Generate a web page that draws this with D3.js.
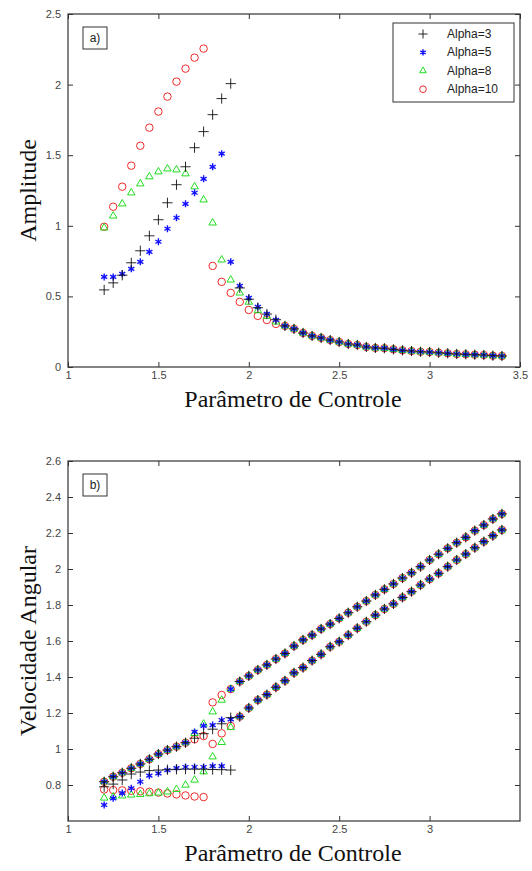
<!DOCTYPE html>
<html>
<head>
<meta charset="utf-8">
<script src="https://cdn.jsdelivr.net/npm/d3@7"></script>
<style>
  body { margin: 0; background: #fff; }
  .tick text { font-family: "Liberation Sans", Arial, sans-serif; font-size: 11px; fill: #444; }
  .tick line { stroke: #333; }
</style>
</head>
<body>
<div id="chart"></div>
<script>
// valores de x (Parâmetro de Controle)
var xs = [1.2,1.25,1.3,1.35,1.4,1.45,1.5,1.55,1.6,1.65,1.7,1.75,1.8,1.85,1.9,1.95,
          2,2.05,2.1,2.15,2.2,2.25,2.3,2.35,2.4,2.45,2.5,2.55,2.6,2.65,2.7,2.75,2.8,
          2.85,2.9,2.95,3,3.05,3.1,3.15,3.2,3.25,3.3,3.35,3.4];

var seriesNames = ["Alpha=3", "Alpha=5", "Alpha=8", "Alpha=10"];

// a) Amplitude  -- cauda comum x = 2.2 .. 3.4
var ampTail = [0.291,0.27,0.241,0.22,0.206,0.191,0.177,0.163,0.156,0.142,0.135,0.133,0.125,
               0.118,0.113,0.108,0.106,0.101,0.097,0.092,0.09,0.087,0.085,0.08,0.078];
// x = 1.2 .. 2.15
var amp3  = [0.546,0.596,0.65,0.738,0.823,0.929,1.043,1.163,1.291,1.418,1.553,1.667,1.787,1.901,2.007,0.56,0.48,0.42,0.375,0.335];
var amp5  = [0.638,0.638,0.66,0.695,0.745,0.816,0.887,0.979,1.057,1.156,1.234,1.333,1.418,1.511,0.745,0.574,0.489,0.426,0.376,0.333];
var amp8  = [0.986,1.07,1.156,1.234,1.298,1.348,1.383,1.404,1.397,1.369,1.277,1.184,1.021,0.759,0.617,0.525,0.46,0.40,0.36,0.32];
var amp10 = [0.993,1.135,1.277,1.426,1.567,1.695,1.809,1.915,2.021,2.113,2.191,2.255,0.716,0.603,0.525,0.461,0.404,0.362,0.333,0.305];

// b) Velocidade Angular -- ramos comuns x = 1.95 .. 3.4
var upperTail = [1.375,1.406,1.439,1.467,1.5,1.531,1.572,1.606,1.633,1.667,1.694,1.726,1.757,1.79,1.822,
                 1.856,1.887,1.917,1.95,1.979,2.013,2.05,2.082,2.115,2.146,2.176,2.213,2.244,2.278,2.306];
var lowerTail = [1.18,1.228,1.272,1.302,1.343,1.379,1.423,1.452,1.491,1.526,1.568,1.596,1.633,1.671,1.707,
                 1.744,1.778,1.806,1.842,1.874,1.911,1.944,1.976,2.013,2.05,2.083,2.118,2.152,2.185,2.217];
// faixa comum x = 1.2 .. 1.65
var bandHead = [0.818,0.846,0.868,0.893,0.917,0.943,0.972,0.994,1.013,1.035];
// x = 1.7 .. 1.9 (ramo 1) e x = 1.2 .. 1.9 (ramo 2)
var vel3a  = [1.06,1.085,1.11,1.14,1.174];
var vel3b  = [0.79,0.805,0.828,0.861,0.872,0.88,0.883,0.885,0.887,0.888,0.888,0.888,0.886,0.885,0.883];
var vel5a  = [1.095,1.128,1.133,1.161,1.333];
var vel5b  = [0.689,0.726,0.755,0.782,0.818,0.852,0.865,0.883,0.894,0.9,0.9,0.9,0.905,0.905,1.165];
var vel8a  = [1.087,1.139,1.207,1.272,1.333];
var vel8b  = [0.728,0.735,0.74,0.745,0.748,0.752,0.756,0.762,0.776,0.8,0.828,0.874,0.957,1.037,1.12];
var vel10a = [1.054,1.072,1.259,1.3,1.333];
var vel10b = [0.775,0.772,0.77,0.768,0.765,0.762,0.758,0.753,0.748,0.742,0.736,0.733,1.028,1.087,1.128];

var ampData = [amp3.concat(ampTail), amp5.concat(ampTail), amp8.concat(ampTail), amp10.concat(ampTail)];
var velData = [
  [bandHead.concat(vel3a, lowerTail), vel3b.concat(upperTail)],
  [bandHead.concat(vel5a, upperTail), vel5b.concat(lowerTail)],
  [bandHead.concat(vel8a, upperTail), vel8b.concat(lowerTail)],
  [bandHead.concat(vel10a, upperTail), vel10b.concat(lowerTail)]
];

var styles = [
  {color: "#111",    sym: d3.symbolPlus,      size: 36, sw: 0.9},
  {color: "#1010ff", sym: d3.symbolAsterisk,  size: 34, sw: 1.4},
  {color: "#22dd22", sym: d3.symbolTriangle2, size: 40, sw: 1},
  {color: "#ee2a2a", sym: d3.symbolCircle,    size: 44, sw: 1}
];
// ordem de desenho: Alpha=10 por baixo, Alpha=3 por cima
var drawOrder = [3, 2, 1, 0];

var width = 532, height = 871;
var svg = d3.select("#chart").append("svg")
    .attr("width", width)
    .attr("height", height);

var x = d3.scaleLinear().domain([1, 3.5]).range([68, 520]);

function panel(opt) {
  var y = d3.scaleLinear().domain(opt.yDomain).range([opt.bottom, opt.top]);
  var g = svg.append("g");

  g.append("rect")
    .attr("x", 68).attr("y", opt.top)
    .attr("width", 452).attr("height", opt.bottom - opt.top)
    .attr("fill", "none").attr("stroke", "#333").attr("stroke-width", 1.2);

  g.append("g").attr("transform", "translate(0," + opt.bottom + ")")
    .call(d3.axisBottom(x).tickValues(opt.xTicks).tickSize(-5).tickPadding(4).tickFormat(function(d){ return d; }))
    .call(function(a){ a.select(".domain").remove(); });
  g.append("g").attr("transform", "translate(0," + opt.top + ")")
    .call(d3.axisTop(x).tickValues(opt.xTicks).tickSize(-5).tickFormat(""))
    .call(function(a){ a.select(".domain").remove(); });
  g.append("g").attr("transform", "translate(68,0)")
    .call(d3.axisLeft(y).tickValues(opt.yTicks).tickSize(-5).tickPadding(7).tickFormat(function(d){ return d; }))
    .call(function(a){ a.select(".domain").remove(); });
  g.append("g").attr("transform", "translate(520,0)")
    .call(d3.axisRight(y).tickValues(opt.yTicks).tickSize(-5).tickFormat(""))
    .call(function(a){ a.select(".domain").remove(); });

  // marcadores
  drawOrder.forEach(function(i) {
    var st = styles[i];
    var sym = d3.symbol().type(st.sym).size(st.size);
    opt.data[i].forEach(function(vals) {
      var pts = xs.map(function(xv, k){ return [xv, vals[k]]; })
                  .filter(function(p){ return p[1] != null; });
      g.selectAll(null).data(pts).enter().append("path")
        .attr("d", sym)
        .attr("transform", function(p){ return "translate(" + x(p[0]) + "," + y(p[1]) + ")"; })
        .attr("fill", "none")
        .attr("stroke", st.color)
        .attr("stroke-width", st.sw);
    });
  });

  // rótulo do painel
  g.append("rect").attr("x", 83).attr("y", opt.top + 13).attr("width", 24).attr("height", 22)
    .attr("fill", "#fff").attr("stroke", "#333");
  g.append("text").attr("x", 95).attr("y", opt.top + 28).attr("text-anchor", "middle")
    .style("font-family", "Liberation Sans, Arial, sans-serif").style("font-size", "12px").attr("fill", "#222")
    .text(opt.label);

  // títulos
  g.append("text").attr("x", 293).attr("y", opt.bottom + 40).attr("text-anchor", "middle")
    .style("font-family", "Liberation Serif, Times New Roman, serif").style("font-size", "24px").attr("fill", "#111")
    .text("Parâmetro de Controle");
  g.append("text")
    .attr("transform", "translate(36," + ((opt.top + opt.bottom) / 2) + ") rotate(-90)")
    .attr("text-anchor", "middle")
    .style("font-family", "Liberation Serif, Times New Roman, serif").style("font-size", "24px").attr("fill", "#111")
    .text(opt.yTitle);
  return g;
}

var gA = panel({
  top: 14, bottom: 367, yDomain: [0, 2.5],
  xTicks: [1, 1.5, 2, 2.5, 3, 3.5], yTicks: [0, 0.5, 1, 1.5, 2, 2.5],
  data: ampData.map(function(d){ return [d]; }),
  label: "a)", yTitle: "Amplitude"
});

panel({
  top: 461, bottom: 821, yDomain: [0.6, 2.6],
  xTicks: [1, 1.5, 2, 2.5, 3], yTicks: [0.8, 1, 1.2, 1.4, 1.6, 1.8, 2, 2.2, 2.4, 2.6],
  data: velData,
  label: "b)", yTitle: "Velocidade Angular"
});

// legenda
var leg = gA.append("g");
leg.append("rect").attr("x", 393).attr("y", 23).attr("width", 121).attr("height", 79)
  .attr("fill", "#fff").attr("stroke", "#333");
seriesNames.forEach(function(name, i) {
  var st = styles[i];
  var yy = 34 + i * 18.4;
  leg.append("path")
    .attr("d", d3.symbol().type(st.sym).size(st.size * 0.8))
    .attr("transform", "translate(423," + yy + ")")
    .attr("fill", "none").attr("stroke", st.color).attr("stroke-width", st.sw);
  leg.append("text").attr("x", 447).attr("y", yy + 4)
    .style("font-family", "Liberation Sans, Arial, sans-serif").style("font-size", "12px").attr("fill", "#222")
    .text(name);
});
</script>
</body>
</html>
